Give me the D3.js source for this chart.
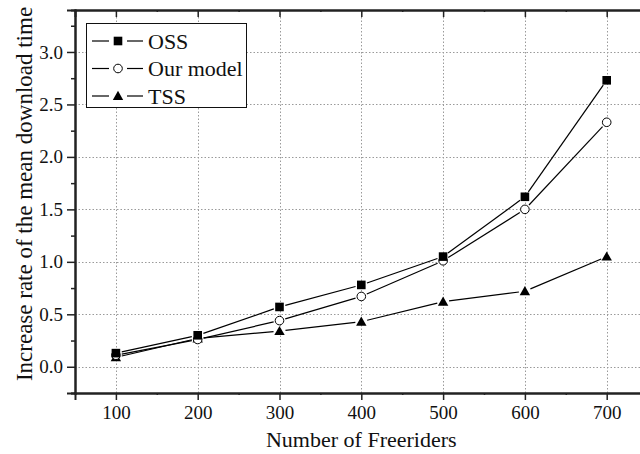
<!DOCTYPE html>
<html>
<head>
<meta charset="utf-8">
<script src="https://cdn.jsdelivr.net/npm/d3@7"></script>
<style>
  html, body { margin: 0; padding: 0; background: #fff; }
  svg { display: block; }
</style>
</head>
<body>
<svg id="chart" width="640" height="454"></svg>
<script>
// Freerider counts on the x axis
const freeriders = [100, 200, 300, 400, 500, 600, 700];
// Increase rate of the mean download time for each scheme
const ossValues = [0.13, 0.30, 0.57, 0.78, 1.05, 1.62, 2.73];
const ourModelValues = [0.11, 0.26, 0.44, 0.67, 1.01, 1.50, 2.33];
const tssValues = [0.09, 0.27, 0.34, 0.43, 0.62, 0.72, 1.05];
const seriesNames = ["OSS", "Our model", "TSS"];
const markerTypes = ["square", "circle", "triangle"];
// Tick labels
const xTicks = [100, 200, 300, 400, 500, 600, 700];
const xMinorTicks = [150, 250, 350, 450, 550, 650];
const yTicks = [0.0, 0.5, 1.0, 1.5, 2.0, 2.5, 3.0];
const yMinorTicks = [-0.25, 0.25, 0.75, 1.25, 1.75, 2.25, 2.75, 3.25];
const xTitle = "Number of Freeriders";
const yTitle = "Increase rate of the mean download time";

const FONT = "'Liberation Serif', 'Times New Roman', serif";

const series = [ossValues, ourModelValues, tssValues].map((vals, i) => ({
  name: seriesNames[i],
  marker: markerTypes[i],
  points: freeriders.map((f, j) => ({ x: f, y: vals[j] }))
}));

const svg = d3.select("#chart");
const plotLeft = 75, plotRight = 647.6, plotTop = 10, plotBottom = 393;

const x = d3.scaleLinear().domain([50, 750]).range([plotLeft, plotRight]);
const y = d3.scaleLinear().domain([-0.25, 3.4]).range([plotBottom, plotTop]);

// Dotted grid
const grid = svg.append("g").attr("stroke", "#9a9a9a").attr("stroke-width", 1)
  .attr("stroke-dasharray", "1.5,2");
grid.selectAll("line.gx").data(xTicks).join("line")
  .attr("x1", d => Math.round(x(d)) + 0.5).attr("x2", d => Math.round(x(d)) + 0.5)
  .attr("y1", plotTop).attr("y2", plotBottom);
grid.selectAll("line.gy").data(yTicks).join("line")
  .attr("x1", plotLeft).attr("x2", plotRight)
  .attr("y1", d => Math.round(y(d)) + 0.5).attr("y2", d => Math.round(y(d)) + 0.5);

// Axes
const axisColor = "#222";
const xAxis = d3.axisBottom(x).tickValues(xTicks).tickSize(7).tickPadding(6).tickFormat(d3.format("d"));
svg.append("g").attr("transform", `translate(0,${plotBottom})`).call(xAxis);
const xTop = d3.axisTop(x).tickValues(xTicks).tickSize(-7).tickFormat("");
svg.append("g").attr("transform", `translate(0,${plotTop})`).call(xTop);
const xMinor = d3.axisBottom(x).tickValues(xMinorTicks).tickSize(2).tickFormat("");
svg.append("g").attr("transform", `translate(0,${plotBottom})`).call(xMinor);
const xTopMinor = d3.axisTop(x).tickValues(xMinorTicks).tickSize(-2).tickFormat("");
svg.append("g").attr("transform", `translate(0,${plotTop})`).call(xTopMinor);

const yAxis = d3.axisLeft(y).tickValues(yTicks).tickSize(8).tickPadding(4).tickFormat(d3.format(".1f"));
svg.append("g").attr("transform", `translate(${plotLeft},0)`).call(yAxis);
const yMinor = d3.axisLeft(y).tickValues(yMinorTicks).tickSize(4).tickFormat("");
svg.append("g").attr("transform", `translate(${plotLeft},0)`).call(yMinor);

svg.selectAll(".domain").attr("stroke", axisColor).attr("stroke-width", 2);
svg.selectAll(".tick line").attr("stroke", axisColor).attr("stroke-width", 1.5);
svg.selectAll(".tick text").attr("fill", "#111").style("font-size", "19px")
  .style("font-family", FONT);

// Axis titles
svg.append("text").attr("x", (x(100) + x(700)) / 2).attr("y", 447)
  .attr("text-anchor", "middle").style("font-size", "22px").style("font-family", FONT)
  .attr("fill", "#111").text(xTitle);
svg.append("text").attr("transform", `translate(32,194) rotate(-90)`)
  .attr("text-anchor", "middle").style("font-size", "23px").style("font-family", FONT)
  .attr("fill", "#111").text(yTitle);

// Marker shapes
function drawMarker(g, type, cx, cy) {
  if (type === "square") {
    g.append("rect").attr("x", cx - 4.3).attr("y", cy - 4.3).attr("width", 8.6).attr("height", 8.6)
      .attr("fill", "#000");
  } else if (type === "circle") {
    g.append("circle").attr("cx", cx).attr("cy", cy).attr("r", 4.3)
      .attr("fill", "#fff").attr("stroke", "#000").attr("stroke-width", 1);
  } else {
    g.append("path").attr("d", `M${cx},${cy - 5.2}L${cx + 5.2},${cy + 4}L${cx - 5.2},${cy + 4}Z`)
      .attr("fill", "#000");
  }
}

// Series lines with a small gap before each symbol
const gap = 6;
const plot = svg.append("g");
series.forEach(s => {
  const pts = s.points.map(p => [x(p.x), y(p.y)]);
  for (let i = 0; i < pts.length - 1; i++) {
    const [x1, y1] = pts[i], [x2, y2] = pts[i + 1];
    const len = Math.hypot(x2 - x1, y2 - y1);
    const ux = (x2 - x1) / len, uy = (y2 - y1) / len;
    plot.append("line")
      .attr("x1", x1 + ux * gap).attr("y1", y1 + uy * gap)
      .attr("x2", x2 - ux * gap).attr("y2", y2 - uy * gap)
      .attr("stroke", "#000").attr("stroke-width", 1.2);
  }
});
// symbols drawn last series first so OSS sits on top
[...series].reverse().forEach(s => {
  s.points.forEach(p => drawMarker(plot, s.marker, x(p.x), y(p.y)));
});

// Legend
const legend = svg.append("g");
legend.append("rect").attr("x", 86.5).attr("y", 23.5).attr("width", 160).attr("height", 84)
  .attr("fill", "#fff").attr("stroke", "#111").attr("stroke-width", 1);
const rowY = [41, 68.5, 96];
series.forEach((s, i) => {
  const cy = rowY[i];
  legend.append("line").attr("x1", 92).attr("x2", 109).attr("y1", cy).attr("y2", cy)
    .attr("stroke", "#000").attr("stroke-width", 1.2);
  legend.append("line").attr("x1", 127).attr("x2", 143).attr("y1", cy).attr("y2", cy)
    .attr("stroke", "#000").attr("stroke-width", 1.2);
  drawMarker(legend, s.marker, 118, cy);
  legend.append("text").attr("x", 148).attr("y", cy + 7.5).style("font-size", "22px")
    .style("font-family", FONT).attr("fill", "#111").text(s.name);
});
</script>
</body>
</html>
